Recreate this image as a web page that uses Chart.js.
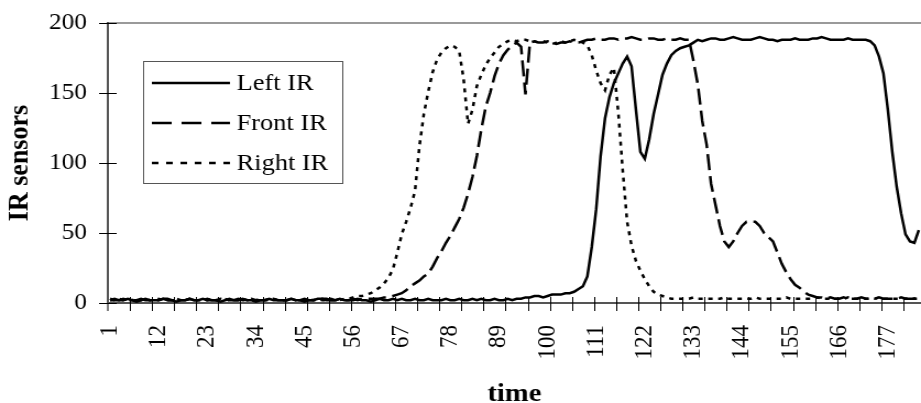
<!DOCTYPE html>
<html><head><meta charset="utf-8">
<script src="https://cdn.jsdelivr.net/npm/chart.js@4/dist/chart.umd.min.js"></script>
<style>
html,body{margin:0;padding:0;background:#fff;overflow:hidden}
</style>
</head><body>
<canvas id="c" width="837" height="403" style="display:block;width:921px;height:403px"></canvas>
<script>
// ---- data ----
const categories = Array.from({length: 184}, (_, i) => String(i + 1));
const yTicks = [0, 50, 100, 150, 200];
const labelEvery = 11;
const tickEvery = 5;

const leftIR = [
  2,3,2,2,3,2,1,2,3,2, 2,2,3,2,2,1,2,2,3,2, 2,3,2,2,2,1,2,3,2,2,
  3,2,2,1,2,2,3,2,2,2, 2,3,2,2,1,2,2,3,3,2, 2,2,3,2,2,2,3,2,2,1,
  2,3,2,2,3,2,3,2,2,3, 2,2,3,2,2,2,3,2,2,3, 2,2,3,2,3,2,2,3,2,2,
  3,2,3,3,4,
  4,5,5,4,5,6,6,6,7,
  7,8,10,12,19,40,67,105,132,147,157,164,171,176,
  169,138,108,103,117,135,149,163,171,177,180,182,183,184,186,188,187,
  188,189,189,188,188,189,190,189,188,188, 188,189,190,189,188,188,187,188,188,188,
  189,188,188,188,189,189,190,189,188,188, 188,188,189,188,188,188,188,187,
  184,176,164,138,108,83,64,49,44,43,52
];

const frontIR = [
  3,2,2,3,2,2,2,3,2,2, 2,2,3,3,2,2,2,2,3,2, 2,2,3,2,2,3,2,2,2,3,
  2,2,3,2,2,2,3,3,2,2, 2,3,2,2,3,2,2,2,3,3, 2,2,3,2,2,3,2,3,3,3,
  3,3,4,4,5,6,7,9,12,14,16,19,21,26,32,37,43,48,54,60,
  68,78,90,105,124,140,150,162,171,177,181,184,186,183,149,186,
  187,186,186,187,186,185,186,186,187,186, 186,187,188,188,189,188,188,189,189,188,
  189,189,190,189,188,188,189,189,188,188, 189,188,188,189,188,188,
  173,156,130,113,85,70,55,44,40,44,50,55,58,58,58,55,50,47,44,36,28,22,17,13,11,8,6,5,
  4,4,3,4,3,3,4,3,3,3,4,3,3,3,4,3,3,3,3,4,3,3,3,4
];

const rightIR = [
  2,2,3,2,2,2,3,2,3,2, 2,3,2,2,2,3,2,2,3,2, 2,2,2,3,2,2,3,2,2,2,
  3,2,2,2,3,2,2,3,2,2, 2,3,2,2,2,3,2,3,2,2, 3,2,2,3,3,
  4,5,5,6,7,9,11,14,18,24,36,49,58,68,80,112,135,151,165,174,179,182,184,183,180,
  160,128,138,155,163,170,175,179,183,185,187,188,187,188,188,187,187,186,187,186,185,186,187,186,187,188,187,186,184,
  177,166,157,152,163,168,136,95,58,41,30,23,17,12,8,6,5,
  4,3,3,3,3,3,4,3,3,3, 3,3,3,4,3,3,3,3,3,3, 4,3,3,3,3,3,3,4,3,3,
  3,3,3,3,4,3,3,3,3,3, 3,4,3,3,3,3,3,3,4,3, 3,3,3,3,3,4,3,3
];

const seriesNames = ['Left IR', 'Front IR', 'Right IR'];
const axisTitleX = 'time';
const axisTitleY = 'IR sensors';

// ---- styles ----
const FONT = "'Liberation Serif','Times New Roman',serif";
const dashes = [[], [16, 6], [4, 5]];

const decor = {
  id: 'decor',
  beforeDatasetsDraw(chart) {
    const {ctx, chartArea: a, scales: {x, y}} = chart;
    ctx.save();
    ctx.lineWidth = 2;
    ctx.strokeStyle = '#9a9a9a';
    ctx.beginPath(); ctx.moveTo(a.left, a.top); ctx.lineTo(a.right, a.top); ctx.stroke();
    ctx.strokeStyle = '#555';
    ctx.beginPath(); ctx.moveTo(a.left, a.top - 1); ctx.lineTo(a.left, a.bottom); ctx.lineTo(a.right, a.bottom); ctx.stroke();
    ctx.strokeStyle = '#000';
    ctx.lineWidth = 1;
    const half = (x.getPixelForValue(1) - x.getPixelForValue(0)) / 2;
    for (let i = tickEvery; i < categories.length; i += tickEvery) {
      const px = Math.round(x.getPixelForValue(i) - half) + 0.5;
      ctx.beginPath(); ctx.moveTo(px, a.bottom - 6); ctx.lineTo(px, a.bottom + 8); ctx.stroke();
    }
    ctx.beginPath(); ctx.moveTo(a.left, a.bottom); ctx.lineTo(a.left, a.bottom + 8); ctx.stroke();
    for (const v of yTicks) {
      const py = Math.round(y.getPixelForValue(v)) + 0.5;
      ctx.beginPath(); ctx.moveTo(a.left - 8, py); ctx.lineTo(a.left + 8, py); ctx.stroke();
    }
    ctx.restore();
  },
  afterDraw(chart) {
    const {ctx} = chart;
    const box = {l: 130, t: 61, r: 311, b: 183};
    ctx.save();
    ctx.fillStyle = '#fff';
    ctx.fillRect(box.l, box.t, box.r - box.l, box.b - box.t);
    ctx.strokeStyle = '#555';
    ctx.lineWidth = 1;
    ctx.strokeRect(box.l + 0.5, box.t + 0.5, box.r - box.l, box.b - box.t);
    chart.data.datasets.forEach((ds, i) => {
      const cy = 83 + i * 40;
      ctx.strokeStyle = ds.borderColor;
      ctx.lineWidth = 2.5;
      ctx.setLineDash(i === 2 ? [6, 7] : (i === 1 ? [18, 9] : []));
      ctx.beginPath(); ctx.moveTo(138, cy); ctx.lineTo(209, cy); ctx.stroke();
      ctx.setLineDash([]);
      ctx.fillStyle = '#000';
      ctx.font = '24px ' + FONT;
      ctx.textBaseline = 'middle';
      ctx.textAlign = 'left';
      ctx.fillText(ds.label, 215, cy + 1);
    });
    ctx.restore();
  }
};

new Chart(document.getElementById('c'), {
  type: 'line',
  data: {
    labels: categories,
    datasets: [leftIR, frontIR, rightIR].map((d, i) => ({
      label: seriesNames[i],
      data: d,
      borderColor: '#000',
      borderWidth: 2.5,
      borderDash: dashes[i],
      pointRadius: 0,
      tension: 0,
      fill: false
    }))
  },
  options: {
    responsive: false,
    animation: false,
    devicePixelRatio: 1,
    layout: {padding: {left: 0, right: 0, top: 23, bottom: 0}},
    plugins: {legend: {display: false}, tooltip: {enabled: false}},
    scales: {
      x: {
        type: 'category',
        offset: true,
        grid: {display: false, drawTicks: false},
        border: {display: false},
        ticks: {
          autoSkip: false, maxRotation: 90, minRotation: 90, padding: 22,
          color: '#000', font: {family: FONT, size: 23},
          callback: (v, i) => (i % labelEvery === 0 ? categories[i] : '')
        },
        title: {display: true, text: axisTitleX, color: '#000',
          font: {family: FONT, size: 26, weight: 'bold'}, padding: {top: 0, bottom: -7}},
        afterFit: (s) => { s.height = 100; s.paddingLeft = 0; s.paddingRight = 0; }
      },
      y: {
        min: 0, max: 200,
        afterBuildTicks: (s) => { s.ticks = yTicks.map(v => ({value: v})); },
        grid: {display: false, drawTicks: false},
        border: {display: false},
        ticks: {padding: 19, color: '#000', font: {family: FONT, size: 23}},
        title: {display: true, text: axisTitleY, color: '#000',
          font: {family: FONT, size: 26, weight: 'bold'}, padding: {top: 3, bottom: 0}},
        afterFit: (s) => { s.width = 98; s.paddingTop = 0; s.paddingBottom = 0; }
      }
    }
  },
  plugins: [decor]
});
</script>
</body></html>
